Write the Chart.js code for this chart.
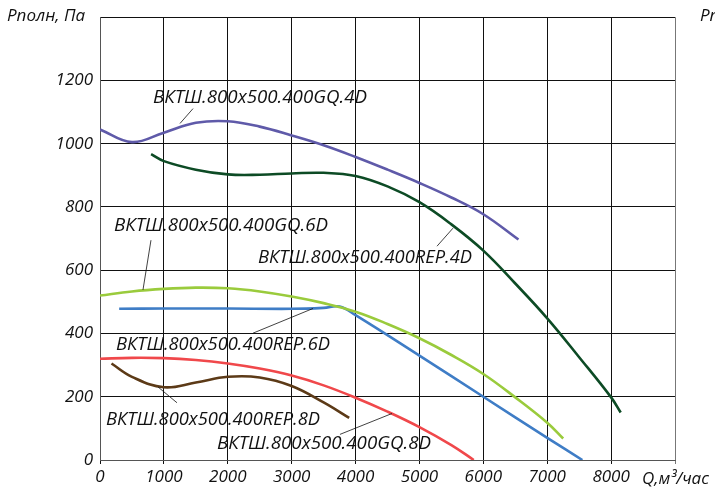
<!DOCTYPE html>
<html>
<head>
<meta charset="utf-8">
<script src="https://cdn.jsdelivr.net/npm/chart.js@4"></script>
<style>
  body { margin: 0; background: #fff; }
  canvas { display: block; }
</style>
</head>
<body>
<canvas id="fanChart" width="715" height="493"></canvas>
<script>
  // Подача Q, м3/час и давление Рполн, Па для каждой кривой
  const gq4dQ = [0, 500, 1000, 1500, 2000, 2500, 3000, 3500, 4000, 4500, 5000, 5500, 6000, 6550];
  const gq4dP = [1045, 1005, 1035, 1066, 1071, 1054, 1026, 995, 958, 918, 876, 830, 777, 697];

  const rep4dQ = [800, 1000, 1500, 2000, 2500, 3000, 3500, 4000, 4500, 5000, 5500, 6000, 6500, 7000, 7500, 8000, 8150];
  const rep4dP = [967, 945, 918, 903, 902, 906, 908, 898, 865, 815, 745, 662, 558, 448, 325, 198, 150];

  const gq6dQ = [0, 500, 1000, 1500, 2000, 2500, 3000, 3500, 4000, 4500, 5000, 5500, 6000, 6500, 7000, 7250];
  const gq6dP = [520, 533, 541, 545, 543, 533, 517, 496, 469, 430, 385, 332, 272, 198, 118, 68];

  const rep6dQ = [300, 1000, 2000, 3000, 3500, 3750, 4000, 5000, 6000, 7000, 7550];
  const rep6dP = [478, 479, 479, 478, 481, 485, 458, 330, 200, 70, 0];

  const gq8dQ = [0, 500, 1000, 1500, 2000, 2500, 3000, 3500, 4000, 4500, 5000, 5500, 5850];
  const gq8dP = [320, 323, 322, 316, 305, 289, 267, 236, 197, 153, 104, 47, 0];

  const rep8dQ = [180, 500, 1000, 1500, 2000, 2500, 3000, 3500, 3900];
  const rep8dP = [305, 263, 230, 245, 263, 261, 234, 182, 133];

  const xTicks = [0, 1000, 2000, 3000, 4000, 5000, 6000, 7000, 8000];
  const yTicks = [0, 200, 400, 600, 800, 1000, 1200];

  // Подписи кривых: центр текста и линия-выноска (в единицах осей)
  const curveLabels = [
    { text: 'ВКТШ.800x500.400GQ.4D',  x: 2504, y: 1146, from: [1252, 1064], to: [1456, 1111] },
    { text: 'ВКТШ.800x500.400GQ.6D',  x: 1894, y: 742,  from: [798, 695],   to: [673, 538] },
    { text: 'ВКТШ.800x500.400REP.4D', x: 4148, y: 639,  from: [5275, 676],  to: [5525, 733] },
    { text: 'ВКТШ.800x500.400REP.6D', x: 1925, y: 366,  from: [2395, 401],  to: [3334, 479] },
    { text: 'ВКТШ.800x500.400REP.8D', x: 1769, y: 128,  from: [908, 231],   to: [1205, 181] },
    { text: 'ВКТШ.800x500.400GQ.8D',  x: 3506, y: 53,   from: [3756, 81],   to: [4570, 147] }
  ];

  function points(qs, ps) {
    return qs.map((q, i) => ({ x: q, y: ps[i] }));
  }

  function curve(qs, ps, color) {
    return {
      data: points(qs, ps),
      borderColor: color,
      borderWidth: 2.6,
      pointRadius: 0,
      fill: false,
      tension: 0.4
    };
  }

  const fontFamily = '"Open Sans", "Noto Sans", sans-serif';

  // Подписи, выноски и названия осей
  const labelsPlugin = {
    id: 'curveLabels',
    afterDatasetsDraw(chart) {
      const ctx = chart.ctx;
      const xs = chart.scales.x;
      const ys = chart.scales.y;
      ctx.save();
      ctx.strokeStyle = '#111';
      ctx.lineWidth = 0.8;
      curveLabels.forEach(l => {
        ctx.beginPath();
        ctx.moveTo(xs.getPixelForValue(l.from[0]), ys.getPixelForValue(l.from[1]));
        ctx.lineTo(xs.getPixelForValue(l.to[0]), ys.getPixelForValue(l.to[1]));
        ctx.stroke();
      });
      ctx.fillStyle = '#111';
      ctx.font = 'italic 500 19px ' + fontFamily;
      ctx.textAlign = 'center';
      ctx.textBaseline = 'middle';
      curveLabels.forEach(l => {
        ctx.fillText(l.text, xs.getPixelForValue(l.x), ys.getPixelForValue(l.y), 214);
      });
      ctx.font = 'italic 17px ' + fontFamily;
      ctx.textAlign = 'left';
      ctx.fillText('Рполн, Па', 7, 16, 84);
      ctx.fillText('Рполн, Па', 700, 16);
      ctx.fillText('Q,м³/час', 642, 479, 72);
      ctx.restore();
    }
  };

  const chartConfig = {
    type: 'line',
    data: {
      datasets: [
        curve(gq4dQ, gq4dP, '#5f5aa9'),
        curve(rep4dQ, rep4dP, '#0d4b25'),
        curve(gq6dQ, gq6dP, '#9acb3c'),
        curve(rep6dQ, rep6dP, '#3f7dc6'),
        curve(gq8dQ, gq8dP, '#f0484b'),
        curve(rep8dQ, rep8dP, '#5c3a17')
      ]
    },
    options: {
      responsive: false,
      animation: false,
      layout: { padding: { top: 13, right: 40, left: 0, bottom: 0 } },
      plugins: { legend: { display: false }, tooltip: { enabled: false } },
      scales: {
        x: {
          type: 'linear',
          min: 0,
          max: 9000,
          afterBuildTicks: s => { s.ticks = xTicks.concat([9000]).map(v => ({ value: v })); },
          afterFit: s => { s.height = 33; },
          ticks: {
            color: '#111',
            font: { family: fontFamily, size: 17, style: 'italic' },
            padding: 3,
            maxRotation: 0,
            callback: v => (xTicks.includes(v) ? String(v) : '')
          },
          grid: {
            color: c => (c.tick && c.tick.value === 9000 ? '#777' : '#111'),
            lineWidth: 1,
            tickLength: 4
          },
          border: { color: '#555', width: 1 }
        },
        y: {
          min: 0,
          max: 1400,
          afterBuildTicks: s => { s.ticks = yTicks.concat([1400]).map(v => ({ value: v })); },
          afterFit: s => { s.width = 100; },
          ticks: {
            color: '#111',
            font: { family: fontFamily, size: 17, style: 'italic' },
            padding: 7,
            callback: v => (yTicks.includes(v) ? String(v) : '')
          },
          grid: { color: '#111', lineWidth: 1, drawTicks: false },
          border: { color: '#555', width: 1 }
        }
      }
    },
    plugins: [labelsPlugin]
  };

  new Chart(document.getElementById('fanChart'), chartConfig);
</script>
</body>
</html>
